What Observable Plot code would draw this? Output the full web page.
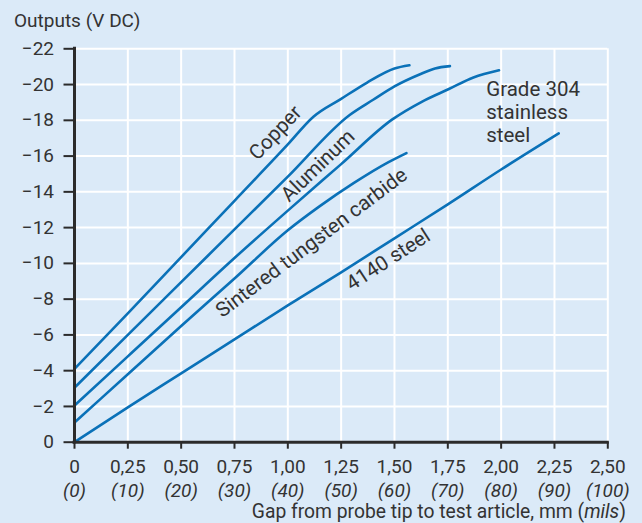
<!DOCTYPE html>
<html><head><meta charset="utf-8">
<script src="https://cdn.jsdelivr.net/npm/d3@7"></script>
<script src="https://cdn.jsdelivr.net/npm/@observablehq/plot@0.6"></script>
<style>
html,body{margin:0;padding:0;background:#dbeaf8;}
body{width:642px;height:523px;overflow:hidden;font-family:Roboto,sans-serif;color:#333;}
#title{height:36px;box-sizing:border-box;padding:10px 0 0 14px;font-size:19px;line-height:21px;white-space:nowrap;}
#caption{height:22px;box-sizing:border-box;text-align:right;padding-right:16px;font-size:19.3px;line-height:22px;white-space:nowrap;}
#chart svg{display:block;}
</style></head><body>
<div id="title">Outputs (V DC)</div>
<div id="chart"></div>
<div id="caption">Gap from probe tip to test article, mm (<i>mils</i>)</div>
<script>
// Tick values
const mmTicks = [0, 0.25, 0.5, 0.75, 1, 1.25, 1.5, 1.75, 2, 2.25, 2.5];
const milTicks = [0, 10, 20, 30, 40, 50, 60, 70, 80, 90, 100];
const voltTicks = [0, -2, -4, -6, -8, -10, -12, -14, -16, -18, -20, -22];

// Series (gap in mm, output in V DC)
const copperGap = [0, 0.25, 0.5, 0.75, 1.0, 1.12, 1.25, 1.37, 1.5, 1.57];
const copperOut = [-4.1, -7.2, -10.35, -13.5, -16.65, -18.2, -19.2, -20.1, -20.9, -21.08];
const aluminumGap = [0, 0.25, 0.5, 0.75, 1.0, 1.29, 1.4, 1.5, 1.62, 1.69, 1.76];
const aluminumOut = [-3.05, -6.0, -8.95, -11.9, -14.85, -18.3, -19.15, -19.9, -20.58, -20.9, -21.03];
const ss304Gap = [0, 0.25, 0.5, 0.75, 1.0, 1.25, 1.49, 1.63, 1.755, 1.87, 1.99];
const ss304Out = [-2.05, -4.8, -7.55, -10.3, -12.95, -15.55, -18.05, -19.05, -19.75, -20.4, -20.8];
const carbideGap = [0, 0.25, 0.5, 0.75, 1.0, 1.15, 1.31, 1.47, 1.556];
const carbideOut = [-1.1, -3.8, -6.5, -9.15, -11.85, -13.2, -14.5, -15.65, -16.17];
const steel4140Gap = [0, 0.25, 0.5, 0.75, 1.0, 1.25, 1.5, 1.75, 2.0, 2.27];
const steel4140Out = [0, -1.95, -3.85, -5.75, -7.65, -9.5, -11.4, -13.3, -15.25, -17.27];

// In-chart labels
const labelText = ["Copper", "Aluminum", "Sintered tungsten carbide", "4140 steel"];
const labelGap = [0.942, 1.141, 1.111, 1.47];
const labelOut = [-17.3, -15.46, -11.15, -10.2];
const labelAngle = [-46.5, -44, -37, -33];
const noteText = "Grade 304\nstainless\nsteel";
const noteGap = 1.93;
const noteOut = -20.3;

const seriesDefs = [
  ["Copper", copperGap, copperOut],
  ["Aluminum", aluminumGap, aluminumOut],
  ["Grade 304 stainless steel", ss304Gap, ss304Out],
  ["Sintered tungsten carbide", carbideGap, carbideOut],
  ["4140 steel", steel4140Gap, steel4140Out]
];
const rows = seriesDefs.flatMap(([name, xs, ys]) => xs.map((x, i) => ({material: name, gap: x, volts: ys[i]})));
const labels = labelText.map((t, i) => ({text: t, gap: labelGap[i], volts: labelOut[i], angle: labelAngle[i]}));
const notes = [{text: noteText, gap: noteGap, volts: noteOut}];

const fmtMm = d => d === 0 ? "0" : d.toFixed(2).replace(".", ",");
const fmtMil = d => `(${milTicks[mmTicks.indexOf(d)]})`;
const fmtV = d => d === 0 ? "0" : "\u2212" + Math.abs(d);

const ink = "#2b2b2b";
const textInk = "#333333";
const blue = "#0a71b8";

const chart = Plot.plot({
  width: 642,
  height: 465,
  marginTop: 12.3,
  marginBottom: 59.3,
  marginLeft: 74,
  marginRight: 34.7,
  style: {background: "transparent", fontFamily: "Roboto, sans-serif", fontSize: "19px", color: textInk, overflow: "visible"},
  x: {domain: [0, 2.5]},
  y: {domain: [0, -22]},
  marks: [
    Plot.gridX(mmTicks, {stroke: "#ffffff", strokeOpacity: 1, strokeWidth: 2}),
    Plot.gridY(voltTicks, {stroke: "#ffffff", strokeOpacity: 1, strokeWidth: 2}),
    Plot.line(rows, {x: "gap", y: "volts", z: "material", stroke: blue, strokeWidth: 2.6, curve: "monotone-x", strokeLinecap: "round"}),
    Plot.ruleY([0], {stroke: ink, strokeWidth: 3, strokeLinecap: "square"}),
    Plot.ruleX([0], {stroke: ink, strokeWidth: 3, strokeLinecap: "square"}),
    Plot.axisX(mmTicks, {tickSize: 7, tickPadding: 10, tickFormat: fmtMm, stroke: ink, strokeWidth: 2, fill: textInk, label: null}),
    Plot.axisX(mmTicks, {tickSize: 0, tickPadding: 40.8, tickFormat: fmtMil, fontStyle: "italic", fill: textInk, label: null}),
    Plot.axisY(voltTicks, {tickSize: 10.5, tickPadding: 10, tickFormat: fmtV, stroke: ink, strokeWidth: 2, fill: textInk, label: null}),
    Plot.text(labels, {x: "gap", y: "volts", text: "text", rotate: "angle", fill: textInk, fontSize: 20.5}),
    Plot.text(notes, {x: "gap", y: "volts", text: "text", textAnchor: "start", lineAnchor: "top", lineHeight: 1.137, fill: textInk, fontSize: 20.5})
  ]
});
document.getElementById("chart").appendChild(chart);
</script>
</body></html>
